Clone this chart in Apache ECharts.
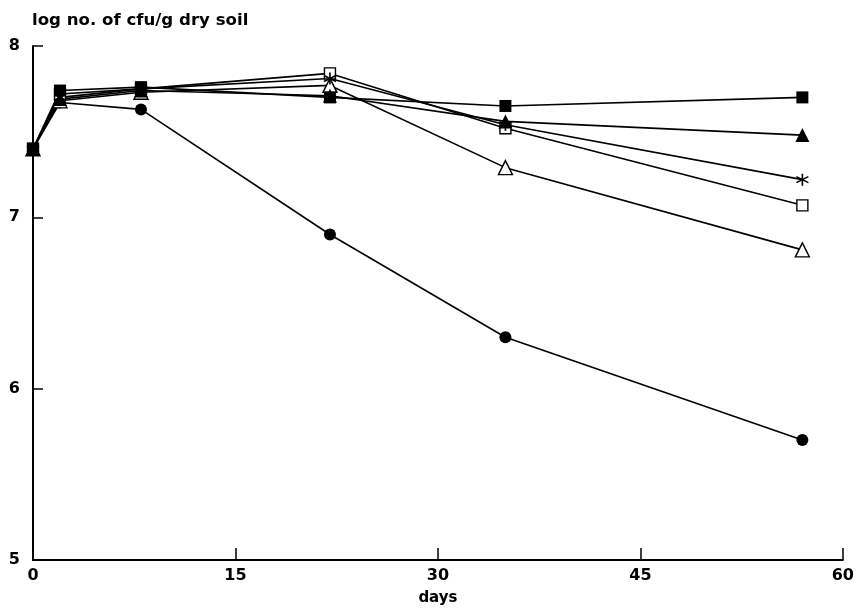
<!DOCTYPE html>
<html>
<head>
<meta charset="utf-8">
<script src="https://cdn.jsdelivr.net/npm/echarts@6/dist/echarts.min.js"></script>
<style>html,body{margin:0;padding:0;background:#fff;}#c{width:857px;height:616px;}</style>
</head>
<body>
<div id="c"></div>
<script>
const days = [0, 2, 8, 22, 35, 57];
const filledSquare   = [7.40, 7.74, 7.76, 7.70, 7.65, 7.70];
const filledTriangle = [7.40, 7.69, 7.74, 7.71, 7.56, 7.48];
const asterisk       = [7.40, 7.70, 7.75, 7.81, 7.54, 7.22];
const openSquare     = [7.40, 7.72, 7.75, 7.84, 7.52, 7.07];
const openTriangle   = [7.40, 7.68, 7.73, 7.77, 7.29, 6.81];
const filledCircle   = [7.40, 7.67, 7.63, 6.90, 6.30, 5.70];
const yTitle = 'log no. of cfu/g dry soil';
const xTitle = 'days';

const font = '"DejaVu Sans", "Liberation Sans", Arial, sans-serif';
const pair = arr => days.map((d, i) => [d, arr[i]]);
const astPath = 'path://M0,-10 L0,10 M-8.66,-5 L8.66,5 M-8.66,5 L8.66,-5';

function mk(name, arr, symbol, size, filled, extra) {
  return Object.assign({
    name, type: 'line', data: pair(arr), symbol, symbolSize: size,
    showAllSymbol: true,
    lineStyle: { color: '#000', width: 1.6 },
    itemStyle: filled ? { color: '#000', borderColor: '#000', borderWidth: 0 }
                      : { color: '#fff', borderColor: '#000', borderWidth: 1.4 },
    emphasis: { disabled: true },
    animation: false
  }, extra || {});
}

const chart = echarts.init(document.getElementById('c'));
chart.setOption({
  animation: false,
  backgroundColor: '#fff',
  title: { text: yTitle, left: 27, top: 7,
    textStyle: { fontFamily: font, fontWeight: 'bold', fontSize: 16.6, color: '#000' } },
  grid: { left: 33, right: 14, top: 46, bottom: 56 },
  xAxis: {
    type: 'value', min: 0, max: 60, interval: 15,
    name: xTitle, nameLocation: 'middle', nameGap: 31,
    nameTextStyle: { fontFamily: font, fontWeight: 'bold', fontSize: 15, color: '#000' },
    axisLine: { lineStyle: { color: '#000', width: 2 } },
    axisTick: { inside: true, length: 12, lineStyle: { color: '#000', width: 1.5 } },
    axisLabel: { fontFamily: font, fontWeight: 'bold', fontSize: 16, color: '#000', margin: 8 },
    splitLine: { show: false }
  },
  yAxis: {
    type: 'value', min: 5, max: 8, interval: 1,
    axisLine: { show: true, lineStyle: { color: '#000', width: 2 } },
    axisTick: { show: true, inside: true, length: 10, lineStyle: { color: '#000', width: 1.5 } },
    axisLabel: { fontFamily: font, fontWeight: 'bold', fontSize: 16, color: '#000', margin: 13 },
    splitLine: { show: false }
  },
  series: [
    mk('filledCircle', filledCircle, 'circle', 12, true),
    mk('openTriangle', openTriangle, 'triangle', 14, false),
    mk('openSquare', openSquare, 'rect', 11, false),
    mk('asterisk', asterisk, astPath, 12, false, { itemStyle: { color: '#000', borderColor: '#000', borderWidth: 1.6 } }),
    mk('filledTriangle', filledTriangle, 'triangle', 14, true),
    mk('filledSquare', filledSquare, 'rect', 12, true)
  ]
});
</script>
</body>
</html>
